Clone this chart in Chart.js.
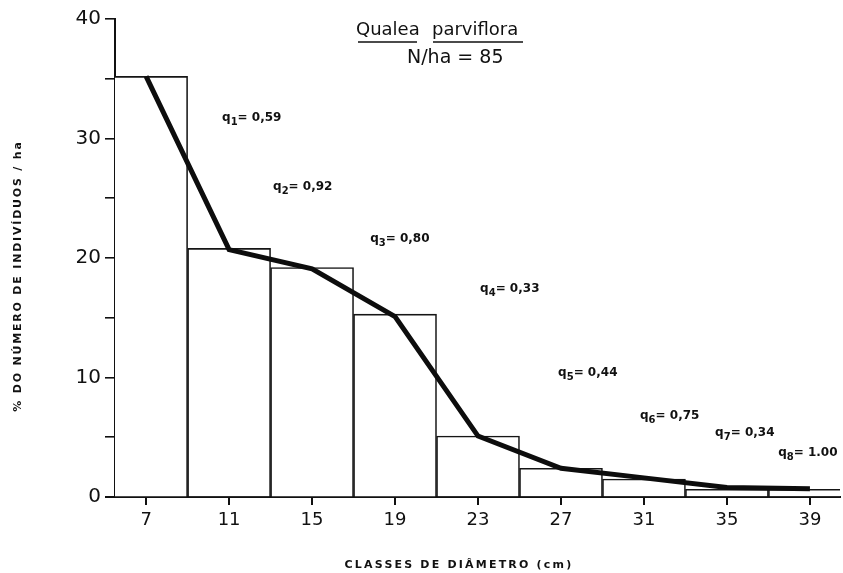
<!DOCTYPE html>
<html>
<head>
<meta charset="utf-8">
<script src="https://cdn.jsdelivr.net/npm/chart.js@4/dist/chart.umd.min.js"></script>
<style>
  html, body { margin: 0; padding: 0; background: #fff; }
  #wrap { width: 843px; height: 573px; }
</style>
</head>
<body>
<div id="wrap"><canvas id="dist"></canvas></div>
<script>
// diameter classes (cm) and % of individuals per hectare
const classes = [7, 11, 15, 19, 23, 27, 31, 35, 39];
const barPct = [35.2, 20.8, 19.2, 15.3, 5.1, 2.4, 1.5, 0.65, 0.65];
const curvePct = [35.2, 20.7, 19.1, 15.1, 5.1, 2.4, 1.6, 0.8, 0.7];

// q ratios between neighbouring classes
const qValues = ['0,59', '0,92', '0,80', '0,33', '0,44', '0,75', '0,34', '1.00'];

const yTicks = [0, 5, 10, 15, 20, 25, 30, 35, 40];

// where the q notes sit, in axis units
const qAt = [
    [10.66, 31.8], [13.12, 26.0], [17.8, 21.7], [23.1, 17.5],
    [26.86, 10.46], [30.81, 6.86], [34.43, 5.44], [37.47, 3.77]
];

const FONT = '"DejaVu Sans", sans-serif';
Chart.defaults.font.family = FONT;
Chart.defaults.color = '#111';

const notes = {
    id: 'notes',
    afterDraw(chart) {
        const { ctx, scales: { x, y } } = chart;
        ctx.save();
        ctx.fillStyle = '#111';
        ctx.strokeStyle = '#111';

        // baseline runs a little past the y axis
        ctx.lineWidth = 2;
        ctx.beginPath();
        ctx.moveTo(x.left - 10, y.bottom);
        ctx.lineTo(x.left, y.bottom);
        ctx.stroke();

        // species heading
        ctx.textAlign = 'left';
        ctx.textBaseline = 'alphabetic';
        ctx.font = '18px ' + FONT;
        ctx.fillText('Qualea', 356, 35);
        ctx.fillText('parviflora', 432, 35);
        ctx.lineWidth = 1.6;
        ctx.beginPath();
        ctx.moveTo(358, 42); ctx.lineTo(417, 42);
        ctx.moveTo(433, 42); ctx.lineTo(523, 42);
        ctx.stroke();
        ctx.font = '19px ' + FONT;
        ctx.fillText('N/ha = 85', 407, 63);

        // q ratios
        qValues.forEach((q, i) => {
            let px = x.getPixelForValue(qAt[i][0]);
            const py = y.getPixelForValue(qAt[i][1]) + 4;
            ctx.font = 'bold 12px ' + FONT;
            ctx.fillText('q', px, py);
            px += ctx.measureText('q').width;
            ctx.font = 'bold 10px ' + FONT;
            ctx.fillText(String(i + 1), px, py + 4);
            px += ctx.measureText(String(i + 1)).width;
            ctx.font = 'bold 12px ' + FONT;
            ctx.fillText('= ' + q, px, py);
        });

        // axis titles
        ctx.font = 'bold 11px ' + FONT;
        if ('letterSpacing' in ctx) ctx.letterSpacing = '2.2px';
        ctx.textAlign = 'center';
        ctx.fillText('CLASSES DE DIÂMETRO (cm)', 459, 568);
        if ('letterSpacing' in ctx) ctx.letterSpacing = '1.8px';
        ctx.translate(21, 276);
        ctx.rotate(-Math.PI / 2);
        ctx.fillText('% DO NÚMERO DE INDIVÍDUOS / ha', 0, 0);
        ctx.restore();
    }
};

new Chart(document.getElementById('dist'), {
    type: 'bar',
    data: {
        datasets: [
            {
                type: 'line',
                data: classes.map((c, i) => ({ x: c, y: curvePct[i] })),
                borderColor: '#0d0d0d',
                borderWidth: 5,
                pointRadius: 0,
                tension: 0,
                order: 0
            },
            {
                type: 'bar',
                data: classes.map((c, i) => ({ x: c, y: barPct[i] })),
                backgroundColor: '#fff',
                borderColor: '#151515',
                borderWidth: 1.6,
                categoryPercentage: 1,
                barPercentage: 1,
                order: 1
            }
        ]
    },
    options: {
        responsive: true,
        maintainAspectRatio: false,
        animation: false,
        layout: { padding: { top: 19, right: 3, left: 0, bottom: 0 } },
        plugins: {
            legend: { display: false },
            tooltip: { enabled: false }
        },
        scales: {
            x: {
                type: 'linear',
                min: 5.5,
                max: 40.45,
                offset: false,
                z: 1,
                afterFit(scale) { scale.height = 76; },
                afterBuildTicks(scale) {
                    scale.ticks = classes.map(v => ({ value: v }));
                },
                border: { display: true, color: '#111', width: 2 },
                grid: { display: true, offset: false, drawOnChartArea: false, drawTicks: true, tickLength: 8, color: '#111', lineWidth: 2 },
                ticks: { font: { size: 18 }, color: '#111', padding: 5, maxRotation: 0 }
            },
            y: {
                min: 0,
                max: 40,
                z: 1,
                afterFit(scale) { scale.width = 115; },
                afterBuildTicks(scale) {
                    scale.ticks = yTicks.map(v => ({ value: v }));
                },
                border: { display: true, color: '#111', width: 2 },
                grid: { display: true, drawOnChartArea: false, drawTicks: true, tickLength: 10, color: '#111', lineWidth: 1.6 },
                ticks: {
                    font: { size: 20 },
                    color: '#111',
                    padding: 4,
                    callback: v => (v % 10 === 0 ? v : '')
                }
            }
        }
    },
    plugins: [notes]
});
</script>
</body>
</html>
